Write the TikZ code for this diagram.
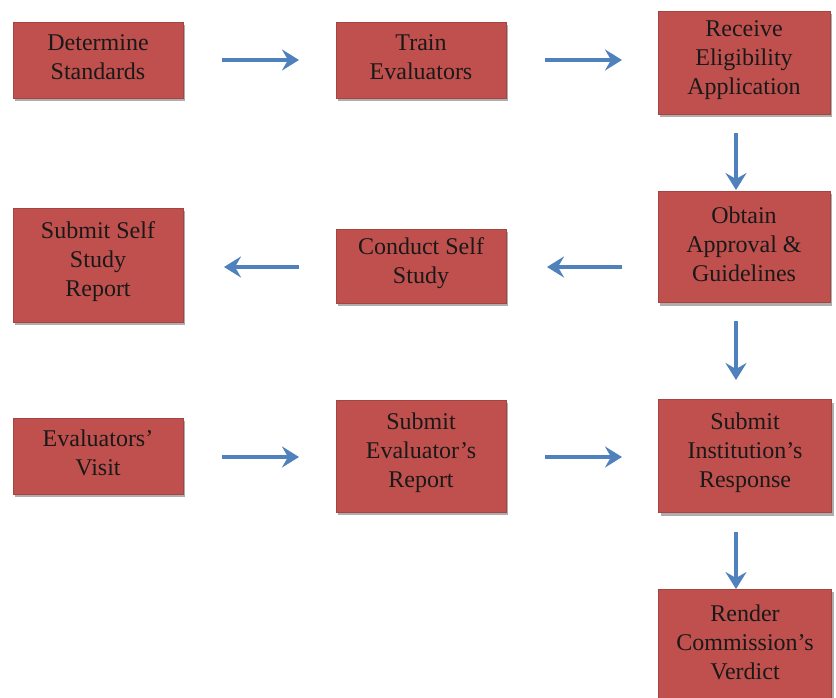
\documentclass[tikz,border=0pt]{standalone}
\usepackage{fontspec}
\setmainfont{Liberation Serif}
\usetikzlibrary{arrows.meta,shadows}
\definecolor{boxred}{HTML}{C0504D}
\definecolor{boxedge}{HTML}{A54542}
\definecolor{arrowblue}{HTML}{4F81BD}
\begin{document}
\begin{tikzpicture}[x=1pt,y=-1pt,
  stepbox/.style={rectangle, fill=boxred, draw=boxedge, line width=0.6pt,
    inner sep=0pt,
    drop shadow={shadow xshift=2pt, shadow yshift=-3pt, opacity=0.45, fill=black!70}},
  steptext/.style={align=center, inner sep=0pt, text=black!90,
    font=\fontsize{24}{29}\selectfont, yshift=3pt},
  flow/.style={draw=arrowblue, line width=3.5pt, -{Stealth[length=17pt,width=21pt,inset=6pt]}}]
\useasboundingbox (0,0) rectangle (836,698);
% row 1
\node[stepbox, minimum width=170pt, minimum height=76pt, label={[steptext]center:{Determine\\Standards}}] (ds) at (98,60) {};
\node[stepbox, minimum width=170pt, minimum height=76pt, label={[steptext]center:{Train\\Evaluators}}] (te) at (421,60) {};
\node[stepbox, minimum width=172pt, minimum height=103pt, label={[steptext]center:{Receive\\Eligibility\\Application}}] (re) at (744,63) {};
% row 2
\node[stepbox, minimum width=172pt, minimum height=111pt, label={[steptext]center:{Obtain\\Approval \&\\Guidelines}}] (oa) at (744,247) {};
\node[stepbox, minimum width=170pt, minimum height=74pt, label={[steptext]center:{Conduct Self\\Study}}] (cs) at (421,266) {};
\node[stepbox, minimum width=170pt, minimum height=114pt, label={[steptext]center:{Submit Self\\Study\\Report}}] (ss) at (98,265) {};
% row 3
\node[stepbox, minimum width=170pt, minimum height=76pt, label={[steptext]center:{Evaluators’\\Visit}}] (ev) at (98,456) {};
\node[stepbox, minimum width=170pt, minimum height=112pt, label={[steptext]center:{Submit\\Evaluator’s\\Report}}] (se) at (421,456) {};
\node[stepbox, minimum width=173pt, minimum height=113pt, label={[steptext]center:{Submit\\Institution’s\\Response}}] (si) at (745,456) {};
\node[stepbox, minimum width=173pt, minimum height=112pt, label={[steptext]center:{Render\\Commission’s\\Verdict}}] (rc) at (745,645) {};
% arrows
\coordinate (a1s) at (222,60); \coordinate (a1e) at (299,60);
\coordinate (a2s) at (545,60); \coordinate (a2e) at (622,60);
\coordinate (a3s) at (736,133); \coordinate (a3e) at (736,190);
\coordinate (a4s) at (622,267); \coordinate (a4e) at (547,267);
\coordinate (a5s) at (299,267); \coordinate (a5e) at (224,267);
\coordinate (a6s) at (736,321); \coordinate (a6e) at (736,380);
\coordinate (a7s) at (222,457); \coordinate (a7e) at (299,457);
\coordinate (a8s) at (545,457); \coordinate (a8e) at (622,457);
\coordinate (a9s) at (736,532); \coordinate (a9e) at (736,589);
\draw[flow] (a1s) -- (a1e);
\draw[flow] (a2s) -- (a2e);
\draw[flow] (a3s) -- (a3e);
\draw[flow] (a4s) -- (a4e);
\draw[flow] (a5s) -- (a5e);
\draw[flow] (a6s) -- (a6e);
\draw[flow] (a7s) -- (a7e);
\draw[flow] (a8s) -- (a8e);
\draw[flow] (a9s) -- (a9e);
\end{tikzpicture}
\end{document}
